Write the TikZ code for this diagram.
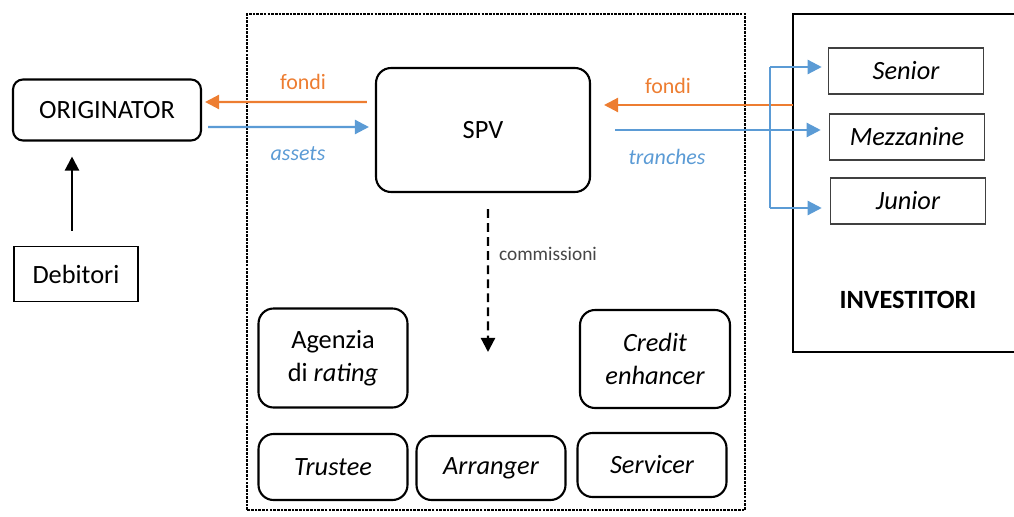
\documentclass[tikz,border=0pt]{standalone}
\usepackage{fontspec}
\setmainfont{Carlito}
\usepackage{tikz}
\usetikzlibrary{arrows.meta}

\definecolor{fondicol}{RGB}{237,125,49}
\definecolor{tranchecol}{RGB}{91,155,213}
\definecolor{commcol}{RGB}{70,70,70}

\begin{document}
\begin{tikzpicture}[x=0.02cm, y=-0.02cm, font=\fontsize{15}{19}\selectfont,
	roundbox/.style={shape=rectangle, draw=black, line width=1.2pt, rounded corners=0.3cm, align=center},
	plainbox/.style={shape=rectangle, draw=black, line width=0.9pt},
	tranchebox/.style={shape=rectangle, draw=black!75, line width=0.9pt, minimum width=3.1cm, minimum height=0.92cm},
	fondiarrow/.style={draw=fondicol, line width=1.3pt, -{Triangle[length=8pt, width=8pt]}},
	tranchearrow/.style={draw=tranchecol, line width=1.3pt, -{Triangle[length=8pt, width=8pt]}},
	flowlabel/.style={font=\fontsize{12.5}{14}\selectfont}]
		\useasboundingbox (0,0) rectangle (1014,517);
		
		% SPV container and investors
		\draw[line width=1.1pt, dash pattern=on 1.5pt off 0.6pt] (247,510) -- (247,14) -- (745,14) -- (745,510) -- cycle;
		\begin{scope}
			\clip (0,0) rectangle (1014,517);
			\draw[line width=1.1pt] (1030,14) -- (793,14) -- (793,352) -- (1030,352);
		\end{scope}
		\coordinate (inv) at (793,105);
		\node[font=\fontsize{15}{18}\selectfont\bfseries] (invlabel) at (908,300) {INVESTITORI};
		
		\node[roundbox, rounded corners=0.2cm, minimum width=3.76cm, minimum height=1.22cm] (orig) at (107,110) {ORIGINATOR};
		\node[plainbox, minimum width=2.48cm, minimum height=1.1cm] (deb) at (76,274) {Debitori};
		\node[roundbox, minimum width=4.28cm, minimum height=2.48cm] (spv) at (483,130) {SPV};
		
		\node[tranchebox] (senior) at (906,71) {\itshape Senior};
		\node[tranchebox] (mezz) at (907,137) {\itshape Mezzanine};
		\node[tranchebox] (junior) at (908,201) {\itshape Junior};
		
		\node[roundbox, minimum width=2.98cm, minimum height=1.98cm] (rating) at (333,358) {Agenzia\\di \textit{rating}};
		\node[roundbox, minimum width=3.0cm, minimum height=1.96cm] (credit) at (655,359) {\itshape Credit\\\itshape enhancer};
		\node[roundbox, minimum width=2.98cm, minimum height=1.32cm] (trustee) at (333,467) {\itshape Trustee};
		\node[roundbox, minimum width=2.98cm, minimum height=1.28cm] (arranger) at (491,468) {\itshape Arranger};
		\node[roundbox, minimum width=2.98cm, minimum height=1.28cm] (servicer) at (652,465) {\itshape Servicer};
		
		% flows
		\draw[fondiarrow, shorten >=0.06cm] ([xshift=-0.16cm, yshift=0.56cm]spv.west) -- ([yshift=0.16cm]orig.east);
		\node[flowlabel, text=fondicol] (fondiL) at (303,82) {fondi};
		\draw[tranchearrow] ([xshift=0.12cm, yshift=-0.34cm]orig.east) -- ([xshift=-0.12cm, yshift=0.06cm]spv.west);
		\node[flowlabel, text=tranchecol, font=\fontsize{12.5}{14}\selectfont\itshape] (assetsL) at (298,154) {assets};
		
		\draw[fondiarrow, shorten >=0.26cm] (inv) -- (inv -| spv.east);
		\node[flowlabel, text=fondicol] (fondiR) at (668,86) {fondi};
		\draw[tranchearrow, shorten >=0.16cm] ([xshift=0.48cm]spv.east) -- (spv.east -| mezz.west);
		\node[flowlabel, text=tranchecol, font=\fontsize{12.5}{14}\selectfont\itshape] (tranchesL) at (667,157) {tranches};
		
		\coordinate (ftop) at (770,67);
		\coordinate (fbot) at (770,208);
		\draw[draw=tranchecol, line width=1.1pt] (ftop) -- (fbot);
		\draw[tranchearrow, shorten >=0.12cm] (ftop) -- (ftop -| senior.west);
		\draw[tranchearrow, shorten >=0.16cm] (fbot) -- (fbot -| junior.west);
		
		\draw[line width=1.3pt, -{Triangle[length=8pt, width=8pt]}, shorten >=0.3cm, shorten <=0.3cm] ([xshift=-0.08cm]deb.north) -- ([xshift=-0.08cm]deb.north |- orig.south);
		
		\coordinate (comm) at (488,352);
		\draw[line width=1.3pt, dash pattern=on 5pt off 3pt, -{Triangle[length=8pt, width=8pt]}, shorten <=0.32cm] ([xshift=0.1cm]spv.south) -- (comm);
		\node[text=commcol, font=\fontsize{11}{13}\selectfont] (commL) at (548,254) {commissioni};
		
	\end{tikzpicture}
\end{document}
